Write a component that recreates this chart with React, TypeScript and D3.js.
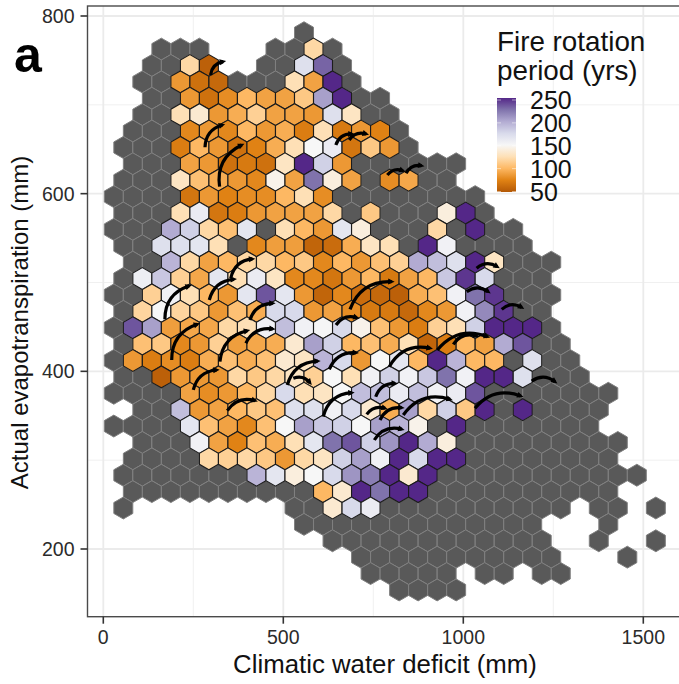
import React from "react";
import * as d3 from "d3";

const width = 679;
const height = 684;

// rotation period per hexagon, row by row from the top.
// 0 = hexagon without fire (grey), null = empty slot in the row
const rowStart = [0, -8, -8, -9, -8, -9, -9, -10, -9, -10, -10, -10, -10, -10, -9, -10, -10, -10, -10, -10, -10, -10, -10, -9, -10, -9, -9, -10, -9, -10, 0, 1, 3, 3, 5];
const rowValues: (number | null)[][] = [
  [0],
  [0, 0, 0, null, null, null, 0, 0, 120, 0],
  [0, 0, 120, 55, null, null, 0, 0, 170, 230, 0],
  [0, 0, 85, 65, 60, 0, 0, 0, 125, 90, 250, 0],
  [0, 0, 85, 65, 80, 100, 90, 90, 110, 205, 250, 0, 0],
  [0, 0, 125, 135, 85, 95, 115, 90, 90, 85, 170, 130, 0, 0],
  [0, 0, 0, 78, 85, 78, 100, 85, 95, 72, 125, 70, 85, 75, 0],
  [0, 0, 0, 72, 100, 85, 65, 75, 95, 125, 150, 160, 68, 110, 85, 0],
  [0, 0, 0, 90, 85, 65, 70, 65, 130, 250, 180, 85, 0, 0, 0, 0, 0, 0],
  [0, 0, 0, 130, 105, 95, 85, 78, 145, 90, 225, 140, 90, 0, 80, 92, 0, 0],
  [0, 0, 0, 0, 68, 85, 75, 80, 80, 100, 125, 80, 0, 0, 0, 0, 0, 0, 0, 0],
  [0, 0, 0, 125, 160, 68, 72, 85, 90, 90, 90, 120, 0, 110, 0, 0, 0, 140, 250, 0],
  [0, 0, 0, 200, 180, 120, 105, 165, 0, 125, 100, 85, 165, 140, 0, 0, 0, 120, 0, 250, 0, 0],
  [0, 0, 170, 170, 165, 125, 0, 78, 88, 88, 58, 62, 95, 130, 125, 0, 250, 155, 0, 0, 0, 0],
  [0, 0, 195, 120, 90, 100, 120, 120, 100, 110, 78, 100, 85, 105, 115, 200, 190, 170, 250, 130, 0, 0, 0],
  [0, 158, 185, 115, 92, 165, 125, 160, 130, 78, 78, 68, 85, 100, 70, 90, 100, 185, 245, 175, 0, 0, 0],
  [0, 0, 115, 155, 125, 100, 85, 165, 235, 165, 85, 58, 78, 62, 60, 55, 95, 105, 155, 225, 245, 0, 0, 0],
  [0, 118, 150, 118, 110, 85, 105, 95, 175, 175, 85, 90, 80, 70, 70, 60, 78, 85, 155, 215, 245, 0, 0],
  [0, 235, 205, 88, 92, 92, 120, 125, 155, 190, 155, 152, 175, 145, 105, 85, 72, 115, 125, 180, 250, 250, 250, 0],
  [0, 105, 110, 78, 85, 115, 88, 92, 95, 135, 205, 180, 100, 105, 95, 125, 58, 72, 100, 90, 200, 235, 0, 0],
  [0, 85, 72, 80, 72, 95, 105, 95, 105, 135, 130, 195, 175, 85, 150, 165, 100, 250, 195, 100, 100, 0, 170, 0, 0],
  [0, 0, 55, 85, 85, 85, 120, 110, 120, 130, 115, 150, 125, 155, 180, 155, 185, 225, 155, 250, 250, 170, 0, 0, 0],
  [0, 0, 0, 0, 90, 80, 85, 100, 120, 175, 125, 130, 150, 190, 190, 160, 190, 155, 160, 235, 0, 0, 0, 0, 0, 0, 0],
  [0, 0, 190, 85, 90, 100, 110, 105, 170, 170, 155, 175, 135, 95, 205, 120, 180, 110, 250, 0, 250, 0, 0, 0, 0],
  [0, 0, 0, 0, 165, 105, 90, 78, 105, 150, 205, 185, 180, 150, 205, 195, 145, 0, 250, 0, 0, 0, 0, 0, 0, 0],
  [0, 0, 0, 155, 90, 75, 105, 95, 125, 165, 225, 235, 180, 210, 250, 200, 140, 0, 0, 0, 0, 0, 0, 0, 0, 0],
  [0, 0, 0, 0, 120, 115, 120, 110, 85, 120, 130, 180, 205, 155, 250, 175, 250, 250, 0, 0, 0, 0, 0, 0, 0, 0],
  [0, 0, 0, 0, 0, 0, 0, 195, 165, 140, 150, 175, 210, 220, 250, 135, 250, 0, 0, 0, 0, 0, 0, 0, 0, 0, 0, 0],
  [0, 0, 0, 0, 0, 0, 0, 0, 0, 0, 100, 135, 250, 225, 250, 250, 0, 0, 0, 0, 0, 0, 0, 0, 0, 0],
  [0, null, null, null, null, null, null, null, null, 0, 0, 135, 175, 160, 0, 0, 0, 0, 0, 0, 0, 0, 0, 0, null, 0, 0, null, 0],
  [0, 0, 0, 0, 0, 0, 0, 0, 0, 0, 0, 0, 0, null, null, null, 0],
  [0, 0, 0, 0, 0, 0, 0, 0, 0, 0, 0, 0, null, null, 0, null, null, 0],
  [0, 0, 0, 0, 0, 0, 0, 0, 0, 0, 0, null, null, null, 0],
  [0, 0, 0, 0, 0, null, 0, 0, null, 0, 0],
  [0, 0, 0, 0],
];

// hexbin grid in data units
const firstRowAet = 781.2;
const aetStep = 18.45;
const cwdOrigin = 557.5;
const cwdStep = 52.83;

// [cwd start, aet start, cwd end, aet end]
const shifts = [
  [298, 733.6, 333, 748.6],
  [282.5, 652.2, 330.5, 677.3],
  [323, 607.9, 384.4, 654.8],
  [646, 654.8, 690, 667.2],
  [683, 660.4, 730, 667.2],
  [789, 621, 832, 625.9],
  [841, 622.9, 884, 631.5],
  [171, 458.6, 238, 496],
  [294.4, 480.3, 363, 503.6],
  [354, 504.7, 414, 526.5],
  [407.5, 457.8, 470.5, 476.6],
  [190, 412.8, 261, 453],
  [324, 410.9, 400, 445.7],
  [396, 431.6, 470.5, 447.7],
  [250, 379, 315, 401.5],
  [344.5, 355.7, 421.4, 367],
  [511, 384.6, 595.5, 411.6],
  [527.8, 392.2, 574, 387.2],
  [627.8, 402.3, 702, 421],
  [611, 348.9, 690, 376],
  [646.4, 452.2, 703.9, 460.4],
  [685.3, 469.8, 801, 501],
  [1037, 516, 1094.4, 517.8],
  [1009.4, 489.7, 1069.4, 489.7],
  [1106.7, 469.8, 1162.2, 472],
  [927.8, 424, 1066.7, 439],
  [972.2, 430.4, 1037.2, 439.8],
  [794.4, 405.2, 907.5, 426],
  [1190, 389, 1254.7, 388.3],
  [1032.5, 358.4, 1159.4, 372.2],
  [833.3, 350.8, 963, 368.5],
  [756.7, 371.4, 810.3, 386.5],
  [731.7, 351.6, 782.5, 358.4],
  [768.6, 345.2, 829, 359],
  [752.8, 322.7, 829, 334.8],
];

const xTicks = [0, 500, 1000, 1500];
const xMinor = [250, 750, 1250];
const yTicks = [200, 400, 600, 800];
const yMinor = [300, 500, 700];
const legendTicks = [250, 200, 150, 100, 50];
const colorStops = [50, 75, 100, 125, 150, 175, 200, 225, 250];
const puOr = ["#b35806", "#e08214", "#fdb863", "#fee0b6", "#f7f7f7", "#d8daeb", "#b2abd2", "#8073ac", "#542788"];

const x = d3.scaleLinear().domain([0, 1500]).range([103.3, 643.3]);
const y = d3.scaleLinear().domain([200, 800]).range([549, 16]);
const color = d3.scaleLinear<string>().domain(colorStops).range(puOr);
const legendY = d3.scaleLinear().domain([50, 250]).range([191.5, 100]);

const hexRadius = 10.95;
const hexPath =
  d3.line()(d3.range(6).map((i) => {
    const a = (Math.PI / 3) * i + Math.PI / 6;
    return [hexRadius * Math.cos(a), hexRadius * Math.sin(a)] as [number, number];
  })) + "Z";

const cells = rowValues.flatMap((vals, r) =>
  vals.map((v, i) => ({
    v,
    cwd: cwdOrigin + (rowStart[r] + i + (r % 2 ? 0.5 : 0)) * cwdStep,
    aet: firstRowAet - r * aetStep,
  })).filter((c) => c.v !== null)
);

const curve = (s: number[]) => {
  const [x0, y0, x1, y1] = [x(s[0]), y(s[1]), x(s[2]), y(s[3])];
  const cx = (x0 + x1) / 2 + 0.36 * (y1 - y0);
  const cy = (y0 + y1) / 2 - 0.36 * (x1 - x0);
  const p = d3.path();
  p.moveTo(x0, y0);
  p.quadraticCurveTo(cx, cy, x1, y1);
  const angle = (Math.atan2(y1 - cy, x1 - cx) * 180) / Math.PI;
  return { d: p.toString(), x1, y1, angle };
};

const font = "'Liberation Sans', Arial, sans-serif";

export default function App() {
  const panel = { left: 87.5, top: 6, bottom: 616.7, right: 700 };
  return (
    <svg width={width} height={height} style={{ position: "absolute", left: 0, top: 0 }} fontFamily={font}>
      <defs>
        <linearGradient id="fire" x1="0" y1="1" x2="0" y2="0">
          {colorStops.map((v, i) => (
            <stop key={v} offset={i / (colorStops.length - 1)} stopColor={color(v)} />
          ))}
        </linearGradient>
      </defs>
      <rect width={width} height={height} fill="#fff" />
      {xMinor.map((v) => (
        <line key={v} x1={x(v)} x2={x(v)} y1={panel.top} y2={panel.bottom} stroke="#f0f0f0" strokeWidth={1} />
      ))}
      {yMinor.map((v) => (
        <line key={v} x1={panel.left} x2={width} y1={y(v)} y2={y(v)} stroke="#f0f0f0" strokeWidth={1} />
      ))}
      {xTicks.map((v) => (
        <line key={v} x1={x(v)} x2={x(v)} y1={panel.top} y2={panel.bottom} stroke="#ebebeb" strokeWidth={1.8} />
      ))}
      {yTicks.map((v) => (
        <line key={v} x1={panel.left} x2={width} y1={y(v)} y2={y(v)} stroke="#ebebeb" strokeWidth={1.8} />
      ))}

      {cells.filter((c) => c.v === 0).map((c, i) => (
        <path key={i} d={hexPath} transform={`translate(${x(c.cwd)},${y(c.aet)})`} fill="#595959" stroke="#808080" strokeWidth={1} />
      ))}
      {cells.filter((c) => (c.v as number) > 0).map((c, i) => (
        <path key={i} d={hexPath} transform={`translate(${x(c.cwd)},${y(c.aet)})`} fill={color(c.v as number)} stroke="#1c1c1c" strokeWidth={1.1} />
      ))}

      {shifts.map(curve).map((a, i) => (
        <g key={i}>
          <path d={a.d} fill="none" stroke="#000" strokeWidth={3.2} />
          <path d="M-3.5,-3L3,0L-3.5,3Z" transform={`translate(${a.x1},${a.y1}) rotate(${a.angle})`} fill="#000" />
        </g>
      ))}

      <rect x={panel.left} y={panel.top} width={panel.right - panel.left} height={panel.bottom - panel.top} fill="none" stroke="#4a4a4a" strokeWidth={1.4} />

      {xTicks.map((v) => (
        <g key={v}>
          <line x1={x(v)} x2={x(v)} y1={panel.bottom} y2={panel.bottom + 7} stroke="#333" strokeWidth={1.6} />
          <text x={x(v)} y={644} textAnchor="middle" fontSize={19.5} fill="#2b2b2b">{v}</text>
        </g>
      ))}
      {yTicks.map((v) => (
        <g key={v}>
          <line x1={panel.left - 7} x2={panel.left} y1={y(v)} y2={y(v)} stroke="#333" strokeWidth={1.6} />
          <text x={74.5} y={y(v) + 7} textAnchor="end" fontSize={19.5} fill="#2b2b2b">{v}</text>
        </g>
      ))}

      <text x={385} y={673} textAnchor="middle" fontSize={25.8} fill="#111">Climatic water deficit (mm)</text>
      <text transform="translate(28,322.5) rotate(-90)" textAnchor="middle" fontSize={24} fill="#111">Actual evapotranspiration (mm)</text>
      <text x={14} y={72} fontSize={50} fontWeight="bold" fill="#000">a</text>

      <text x={497} y={51} fontSize={27.8} fill="#111">Fire rotation</text>
      <text x={497} y={80} fontSize={27.8} fill="#111">period (yrs)</text>
      <rect x={497} y={98} width={19} height={94} fill="url(#fire)" />
      {legendTicks.map((v) => (
        <g key={v}>
          <line x1={497} x2={501} y1={legendY(v)} y2={legendY(v)} stroke="#fff" strokeOpacity={0.5} />
          <line x1={512} x2={516} y1={legendY(v)} y2={legendY(v)} stroke="#fff" strokeOpacity={0.5} />
          <text x={530} y={legendY(v) + 9} fontSize={25} fill="#111">{v}</text>
        </g>
      ))}
    </svg>
  );
}
